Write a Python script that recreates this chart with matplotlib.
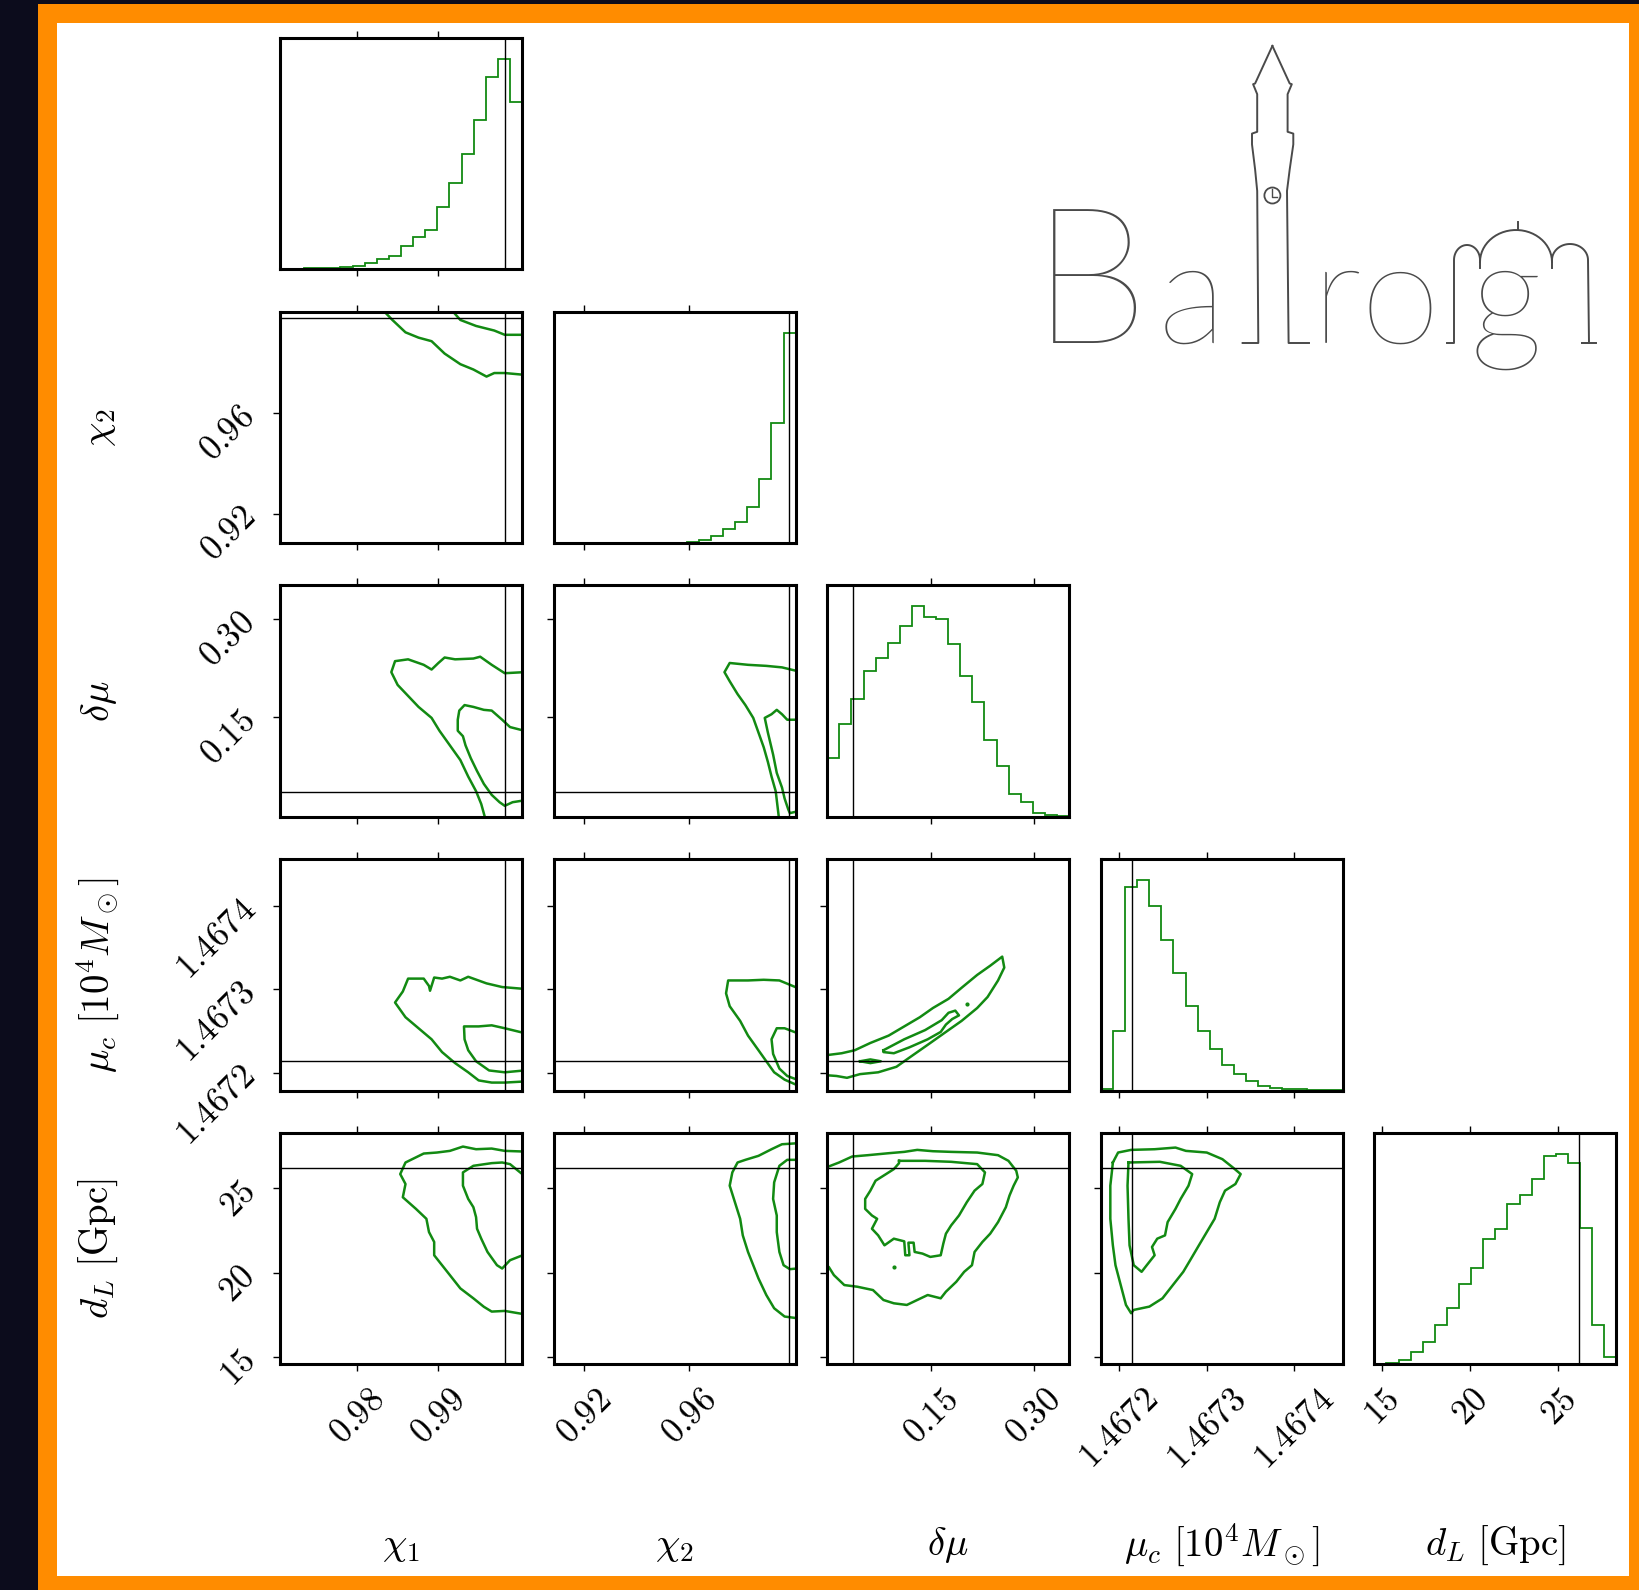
import numpy as np
import matplotlib.pyplot as plt
from matplotlib.patches import Rectangle, Circle

plt.rcParams['mathtext.fontset'] = 'cm'

# parameters of the corner plot
labels = [r'$\chi_1$', r'$\chi_2$', r'$\delta\mu$',
          r'$\mu_c\ [10^4 M_\odot]$', r'$d_L\ [\mathrm{Gpc}]$']
lims = [(0.97045, 1.00032), (0.9083, 1.0004), (-0.0022, 0.3515),
        (1.467179, 1.467456), (14.58, 28.28)]
truths = [0.9982, 0.998, 0.035, 1.4672143, 26.18]
ticks = [[0.98, 0.99], [0.92, 0.96], [0.15, 0.30],
         [1.4672, 1.4673, 1.4674], [15, 20, 25]]
ticklabels = [['0.98', '0.99'], ['0.92', '0.96'], ['0.15', '0.30'],
              ['1.4672', '1.4673', '1.4674'], ['15', '20', '25']]

# 1d marginals (20 bins over the axis range, relative heights)
hist_chi1 = [0.003, 0.003, 0.004, 0.004, 0.006, 0.008, 0.015, 0.026, 0.042, 0.057,
             0.100, 0.138, 0.169, 0.269, 0.372, 0.497, 0.642, 0.831, 0.908, 0.720]
hist_chi2 = [0, 0, 0, 0, 0, 0, 0, 0, 0.001, 0.001,
             0.002, 0.004, 0.015, 0.031, 0.061, 0.092, 0.157, 0.275, 0.519, 0.908]
hist_dmu = [0.256, 0.402, 0.508, 0.632, 0.687, 0.751, 0.825, 0.910, 0.862, 0.854,
            0.746, 0.608, 0.497, 0.330, 0.219, 0.100, 0.063, 0.016, 0.008, 0.002]
hist_muc = [0.005, 0.258, 0.877, 0.908, 0.797, 0.649, 0.506, 0.364, 0.256, 0.179,
            0.111, 0.071, 0.040, 0.021, 0.013, 0.008, 0.005, 0.002, 0.001, 0.001]
hist_dl = [0.003, 0.006, 0.017, 0.053, 0.096, 0.171, 0.243, 0.350, 0.420, 0.543,
           0.589, 0.696, 0.734, 0.803, 0.903, 0.913, 0.874, 0.591, 0.171, 0.034]
hists = [hist_chi1, hist_chi2, hist_dmu, hist_muc, hist_dl]

# 2d contours (x values, y values)
chi2_chi1_outer = ([0.9830, 0.98348, 0.98432, 0.98594, 0.98755, 0.98916, 0.99077, 0.99271, 0.99432, 0.99594, 0.99690, 0.99819, 1.0006],
                   [1.0010, 0.99986, 0.99704, 0.99211, 0.99000, 0.98859, 0.98366, 0.97944, 0.97732, 0.97451, 0.97592, 0.97592, 0.97521])
chi2_chi1_inner = ([0.9918, 0.99194, 0.99271, 0.99465, 0.99690, 0.99819, 1.0006],
                   [1.0010, 0.99986, 0.99704, 0.99465, 0.99282, 0.99113, 0.99113])

dmu_chi1_outer = ([1.0006, 0.99819, 0.99658, 0.99516, 0.99432, 0.99206, 0.99077, 0.99000, 0.98916, 0.98819, 0.98626, 0.98465,
                   0.98419, 0.98497, 0.98626, 0.98755, 0.98916, 0.99013, 0.99142, 0.99271, 0.99368, 0.99465, 0.99529, 0.99590],
                  [0.2188, 0.2172, 0.2300, 0.2424, 0.2396, 0.2384, 0.2412, 0.2328, 0.2228, 0.2300, 0.2384, 0.2356,
                   0.2188, 0.1993, 0.1825, 0.1657, 0.1489, 0.1293, 0.1069, 0.0845, 0.0593, 0.0369, 0.0173, -0.01])
dmu_chi1_inner = ([1.0006, 0.99884, 0.99787, 0.99658, 0.99561, 0.99432, 0.99323, 0.99258, 0.99239, 0.99239,
                   0.99303, 0.99335, 0.99400, 0.99477, 0.99561, 0.99658, 0.99755, 0.99819, 0.99916, 1.0006],
                  [0.1293, 0.1349, 0.1461, 0.1601, 0.1612, 0.1657, 0.1685, 0.1601, 0.1461, 0.1293,
                   0.1209, 0.1069, 0.0873, 0.0677, 0.0481, 0.0313, 0.0201, 0.0146, 0.0201, 0.0229])

dmu_chi2_outer = ([1.0010, 0.99522, 0.98925, 0.98229, 0.97532, 0.97333, 0.97532, 0.97831, 0.98129, 0.98428, 0.98627, 0.98826,
                   0.98985, 0.99124, 0.99283, 0.99423],
                  [0.2205, 0.2261, 0.2284, 0.2300, 0.2328, 0.2188, 0.2049, 0.1853, 0.1685, 0.1489, 0.1265, 0.1041,
                   0.0817, 0.0593, 0.0369, -0.01])
dmu_chi2_inner = ([1.0010, 0.99721, 0.99522, 0.99323, 0.99124, 0.98866, 0.98985, 0.99184, 0.99323, 0.99522, 0.99622,
                   0.99761, 0.99821, 1.0010],
                  [0.1461, 0.1461, 0.1545, 0.1612, 0.1545, 0.1489, 0.1265, 0.0929, 0.0649, 0.0425, 0.0257,
                   0.0090, 0.0034, 0.0060])

muc_chi1_outer = ([1.0006, 0.99787, 0.99594, 0.99368, 0.99271, 0.99142, 0.99045, 0.98948, 0.98897, 0.98884, 0.98819, 0.98626,
                   0.98561, 0.98465, 0.98594, 0.98755, 0.98916, 0.99045, 0.99206, 0.99368, 0.99497, 0.99658, 0.99819, 1.0006],
                  [1.4673007, 1.4673029, 1.4673073, 1.4673152, 1.4673108, 1.4673152, 1.4673130, 1.4673143, 1.4672985,
                   1.4673042, 1.4673130, 1.4673130, 1.4672976, 1.4672844, 1.4672668, 1.4672536, 1.4672404, 1.4672251,
                   1.4672119, 1.4672009, 1.4671912, 1.4671886, 1.4671886, 1.4671899])
muc_chi1_inner = ([1.0006, 0.99819, 0.99658, 0.99497, 0.99316, 0.99323, 0.99368, 0.99465, 0.99626, 0.99819, 1.0006],
                  [1.4672479, 1.4672536, 1.4672571, 1.4672558, 1.4672558, 1.4672404, 1.4672273, 1.4672141,
                   1.4672031, 1.4672009, 1.4672031])

muc_chi2_outer = ([1.0010, 0.99423, 0.98826, 0.98229, 0.97473, 0.97393, 0.97532, 0.97930, 0.98229, 0.98627, 0.98925,
                   0.99224, 0.99622, 1.0010],
                  [1.4673020, 1.4673108, 1.4673116, 1.4673108, 1.4673108, 1.4672954, 1.4672800, 1.4672624, 1.4672448,
                   1.4672273, 1.4672141, 1.4672009, 1.4671921, 1.4671855])
muc_chi2_inner = ([1.0010, 0.99622, 0.99323, 0.99124, 0.99184, 0.99423, 0.99721, 1.0010],
                  [1.4672479, 1.4672536, 1.4672536, 1.4672404, 1.4672229, 1.4672053, 1.4671965, 1.4671921])

muc_dmu_outer = ([-0.01, 0.0190, 0.0381, 0.0609, 0.0876, 0.1104, 0.1332, 0.1523, 0.1751, 0.1942, 0.2170, 0.2360, 0.2536,
                  0.2566, 0.2475, 0.2322, 0.2170, 0.1942, 0.1713, 0.1447, 0.1180, 0.0990, 0.0723, 0.0457, 0.0267,
                  0.0114, -0.01],
                 [1.4672207, 1.4672237, 1.4672273, 1.4672360, 1.4672448, 1.4672558, 1.4672668, 1.4672778, 1.4672888,
                  1.4673020, 1.4673174, 1.4673284, 1.4673393, 1.4673262, 1.4673108, 1.4672910, 1.4672778, 1.4672624,
                  1.4672492, 1.4672338, 1.4672185, 1.4672075, 1.4672009, 1.4671987, 1.4671943, 1.4671965, 1.4671978])
muc_dmu_inner = ([0.0800, 0.1104, 0.1409, 0.1652, 0.1751, 0.1850, 0.1904, 0.1805, 0.1713, 0.1637, 0.1447, 0.1180,
                  0.0952, 0.0800, 0.0800],
                 [1.4672273, 1.4672404, 1.4672514, 1.4672633, 1.4672721, 1.4672747, 1.4672690, 1.4672646, 1.4672580,
                  1.4672492, 1.4672404, 1.4672308, 1.4672237, 1.4672251, 1.4672273])
muc_dmu_core = ([0.0457, 0.0609, 0.0761, 0.0609, 0.0457],
                [1.4672141, 1.4672163, 1.4672141, 1.4672119, 1.4672141])
muc_dmu_dot = ([0.2018], [1.4672822])

dl_chi1_outer = ([1.0006, 0.99819, 0.99658, 0.99465, 0.99303, 0.99142, 0.98981, 0.98819, 0.98594, 0.98529, 0.98594,
                  0.98561, 0.98723, 0.98852, 0.98884, 0.98948, 0.98948, 0.99045, 0.99142, 0.99271, 0.99432, 0.99561,
                  0.99658, 0.99819, 1.0006],
                 [27.176, 27.216, 27.353, 27.314, 27.471, 27.216, 27.118, 27.059, 26.529, 25.843, 25.255, 24.471,
                  23.784, 23.196, 22.412, 21.824, 21.039, 20.451, 19.863, 19.078, 18.490, 17.990, 17.706, 17.745, 17.549])
dl_chi1_inner = ([1.0006, 0.99884, 0.99787, 0.99658, 0.99432, 0.99303, 0.99303, 0.99368, 0.99432, 0.99465, 0.99477,
                  0.99529, 0.99606, 0.99723, 0.99787, 0.99884, 1.0006],
                 [25.745, 26.431, 26.529, 26.490, 26.333, 25.941, 25.157, 24.373, 23.882, 23.294, 22.608, 22.020,
                  21.235, 20.451, 20.255, 20.745, 21.078])

dl_chi2_outer = ([1.0010, 0.99522, 0.99124, 0.98627, 0.98129, 0.97831, 0.97632, 0.97532, 0.97731, 0.97930, 0.98030,
                  0.98229, 0.98428, 0.98627, 0.98925, 0.99224, 0.99622, 1.0010],
                 [27.667, 27.608, 27.314, 26.922, 26.686, 26.529, 25.941, 25.157, 24.176, 23.196, 22.216, 21.235,
                  20.451, 19.667, 18.686, 17.902, 17.412, 17.314])
dl_chi2_inner = ([1.0010, 0.99721, 0.99423, 0.99224, 0.99184, 0.99323, 0.99323, 0.99423, 0.99582, 0.99821, 1.0010],
                 [26.686, 26.686, 26.333, 25.353, 24.373, 23.392, 22.412, 21.235, 20.451, 20.216, 20.255])

dl_dmu_outer = ([-0.01, 0.0152, 0.0343, 0.0571, 0.0876, 0.1104, 0.1294, 0.1523, 0.1789, 0.2170, 0.2475, 0.2627, 0.2741,
                 0.2764, 0.2703, 0.2642, 0.2589, 0.2475, 0.2360, 0.2246, 0.2132, 0.2094, 0.1980, 0.1865, 0.1713,
                 0.1637, 0.1447, 0.1294, 0.1142, 0.0952, 0.0800, 0.0647, 0.0419, 0.0228, 0.0076, 0.0000, -0.01],
                [26.137, 26.529, 26.882, 26.961, 27.078, 27.157, 27.275, 27.196, 27.157, 27.118, 26.961, 26.627,
                 26.039, 25.647, 25.157, 24.569, 23.882, 23.000, 22.314, 21.824, 21.235, 20.451, 20.059, 19.471,
                 18.882, 18.490, 18.686, 18.392, 18.098, 18.196, 18.392, 18.980, 19.176, 19.275, 19.863, 20.353, 20.490])
dl_dmu_inner = ([0.1028, 0.1409, 0.1789, 0.2170, 0.2284, 0.2246, 0.2132, 0.2018, 0.1904, 0.1789, 0.1713, 0.1675,
                 0.1637, 0.1485, 0.1371, 0.1256, 0.1241, 0.1165, 0.1180, 0.1119, 0.1104, 0.0952, 0.0815, 0.0723,
                 0.0632, 0.0708, 0.0632, 0.0533, 0.0533, 0.0609, 0.0685, 0.0838, 0.0952, 0.1028, 0.1028],
                [26.627, 26.627, 26.569, 26.431, 25.941, 25.255, 24.863, 24.176, 23.392, 22.804, 22.314, 21.726,
                 21.039, 20.941, 21.137, 21.235, 21.784, 21.784, 21.039, 21.039, 21.863, 22.020, 21.627, 22.216,
                 22.608, 23.196, 23.392, 23.784, 24.373, 24.863, 25.451, 25.843, 26.137, 26.490, 26.627])
dl_dmu_dot = ([0.0952], [20.353])

dl_muc_outer = ([1.4671928, 1.4671988, 1.4672137, 1.4672406, 1.4672645, 1.4672764, 1.4673003, 1.4673182, 1.4673301,
                 1.4673391, 1.4673331, 1.4673212, 1.4673152, 1.4673093, 1.4673003, 1.4672913, 1.4672824, 1.4672734,
                 1.4672615, 1.4672496, 1.4672346, 1.4672167, 1.4672137, 1.4672078, 1.4672018, 1.4671958, 1.4671928,
                 1.4671899, 1.4671899, 1.4671916, 1.4671928],
                [26.529, 27.118, 27.275, 27.314, 27.412, 27.216, 27.118, 26.725, 26.235, 25.843, 25.255, 24.863,
                 24.176, 23.196, 22.412, 21.627, 20.843, 20.059, 19.275, 18.490, 18.000, 17.804, 17.608, 18.098,
                 19.275, 20.451, 21.627, 23.196, 25.157, 25.941, 26.529])
dl_muc_inner = ([1.4672107, 1.4672466, 1.4672704, 1.4672836, 1.4672794, 1.4672704, 1.4672645, 1.4672555, 1.4672525,
                 1.4672436, 1.4672376, 1.4672406, 1.4672316, 1.4672257, 1.4672167, 1.4672119, 1.4672107, 1.4672096,
                 1.4672107],
                [26.529, 26.569, 26.333, 25.843, 25.157, 24.373, 23.784, 23.000, 22.216, 22.020, 21.529, 21.039,
                 20.451, 20.059, 20.451, 21.627, 23.196, 25.157, 26.529])

contours = {
    (1, 0): [chi2_chi1_outer, chi2_chi1_inner],
    (2, 0): [dmu_chi1_outer, dmu_chi1_inner],
    (2, 1): [dmu_chi2_outer, dmu_chi2_inner],
    (3, 0): [muc_chi1_outer, muc_chi1_inner],
    (3, 1): [muc_chi2_outer, muc_chi2_inner],
    (3, 2): [muc_dmu_outer, muc_dmu_inner, muc_dmu_core],
    (4, 0): [dl_chi1_outer, dl_chi1_inner],
    (4, 1): [dl_chi2_outer, dl_chi2_inner],
    (4, 2): [dl_dmu_outer, dl_dmu_inner],
    (4, 3): [dl_muc_outer, dl_muc_inner],
}
dots = {(3, 2): muc_dmu_dot, (4, 2): dl_dmu_dot}

W, H = 1640, 1590
fig = plt.figure(figsize=(W / 100, H / 100), dpi=100)
fig.patch.set_facecolor('#0c0c1c')
fig.add_artist(Rectangle((38 / W, 0), 1 - 38 / W, 1 - 4 / H, transform=fig.transFigure,
                         facecolor='#ff8c00', edgecolor='none', zorder=-3))
fig.add_artist(Rectangle((56.5 / W, 1 - 1576 / H), (1629.5 - 56.5) / W, (1576 - 22.5) / H,
                         transform=fig.transFigure, facecolor='white', edgecolor='none', zorder=-2))

green = '#128a12'
n = 5
for i in range(n):
    for j in range(i + 1):
        left = (280 + 273.6 * j) / W
        bottom = 1 - (37.7 + 273.8 * i + 231.5) / H
        ax = fig.add_axes([left, bottom, 242 / W, 231.5 / H])
        for s in ax.spines.values():
            s.set_linewidth(2.2)
        ax.set_xlim(lims[j])
        ax.set_xticks(ticks[j])
        ax.tick_params(axis='both', direction='out', length=5, width=1.0,
                       top=True, bottom=True, right=False, labelsize=25, pad=8)
        if i == j:
            edges = np.linspace(lims[j][0], lims[j][1], len(hists[j]) + 1)
            ax.stairs(hists[j], edges, color=green, lw=1.3, baseline=0)
            ax.set_ylim(0, 1.1 * max(hists[j]))
            ax.set_yticks([])
            ax.axvline(truths[j], color='k', lw=1.0)
        else:
            for cx, cy in contours.get((i, j), []):
                ax.plot(cx, cy, color=green, lw=1.8)
            if (i, j) in dots:
                ax.plot(dots[(i, j)][0], dots[(i, j)][1], 'o', color=green, ms=2)
            ax.set_ylim(lims[i])
            ax.set_yticks(ticks[i])
            ax.axvline(truths[j], color='k', lw=1.0)
            ax.axhline(truths[i], color='k', lw=1.0)
            if j == 0:
                ax.set_yticklabels(['$%s$' % t for t in ticklabels[i]], rotation=45)
                ax.set_ylabel(labels[i], fontsize=28)
                ax.yaxis.set_label_coords(-0.75, 0.5)
                ax.yaxis.label.set_va('center')
            else:
                ax.set_yticklabels([])
        if i == n - 1:
            ax.set_xticklabels(['$%s$' % t for t in ticklabels[j]], rotation=45)
            ax.set_xlabel(labels[j], fontsize=28)
            ax.xaxis.set_label_coords(0.5, -0.78)
            ax.xaxis.label.set_va('center')
        else:
            ax.set_xticklabels([])

# Balrog logo, drawn in figure pixel units
lax = fig.add_axes([1030 / W, 1 - 410 / H, 590 / W, 380 / H])
lax.set_xlim(1030, 1620)
lax.set_ylim(410, 30)
lax.axis('off')
ink = '#4a4a4a'
lax.text(1031, 343, 'B', fontsize=137, family='Lato', fontweight=100, color=ink, ha='left', va='baseline')
lax.text(1158, 343, 'a', fontsize=104, family='Lato', fontweight=100, color=ink, ha='left', va='baseline')
lax.text(1312, 343, 'ro', fontsize=104, family='Lato', fontweight=100, color=ink, ha='left', va='baseline')
lax.text(1470, 343, 'g', fontsize=104, family='Lato', fontweight=100, color=ink, ha='left', va='baseline')

tower_left_x = [1242.6, 1258.3, 1257.2, 1255.1, 1252.0, 1252.0, 1257.2, 1257.2, 1253.1, 1255.1, 1272.4]
tower_left_y = [343, 343, 190.9, 169.4, 144.4, 133.6, 131.8, 94.2, 84.2, 83.5, 45.9]
tower_right_x = [1272.4, 1289.7, 1291.8, 1287.6, 1287.6, 1293.3, 1293.3, 1289.7, 1287.0, 1288.6, 1309.0]
tower_right_y = [45.9, 83.5, 84.2, 94.2, 131.8, 133.6, 144.4, 169.4, 190.9, 343, 343]
lax.plot(tower_left_x, tower_left_y, color=ink, lw=1.4)
lax.plot(tower_right_x, tower_right_y, color=ink, lw=1.4)
lax.add_patch(Circle((1272.4, 195.5), 8, fill=False, edgecolor=ink, lw=1.3))
lax.plot([1272.4, 1272.4, 1277], [189, 197, 197], color=ink, lw=1.0)

t = np.linspace(np.pi, 0, 30)
lax.plot(np.r_[1447, 1454, 1454, 1467 + 13 * np.cos(t), 1480],
         np.r_[343, 343, 260, 260 - 15 * np.sin(t), 268], color=ink, lw=1.4)
lax.plot(1516 + 36 * np.cos(t), 262 - 32 * np.sin(t), color=ink, lw=1.4)
lax.plot([1518, 1518], [230, 222], color=ink, lw=1.4)
lax.plot(np.r_[1552, 1570 + 18 * np.cos(t), 1589, 1582, 1596],
         np.r_[268, 260 - 16 * np.sin(t), 343, 343, 343], color=ink, lw=1.4)

fig.savefig('out.png', dpi=100, facecolor=fig.get_facecolor())
